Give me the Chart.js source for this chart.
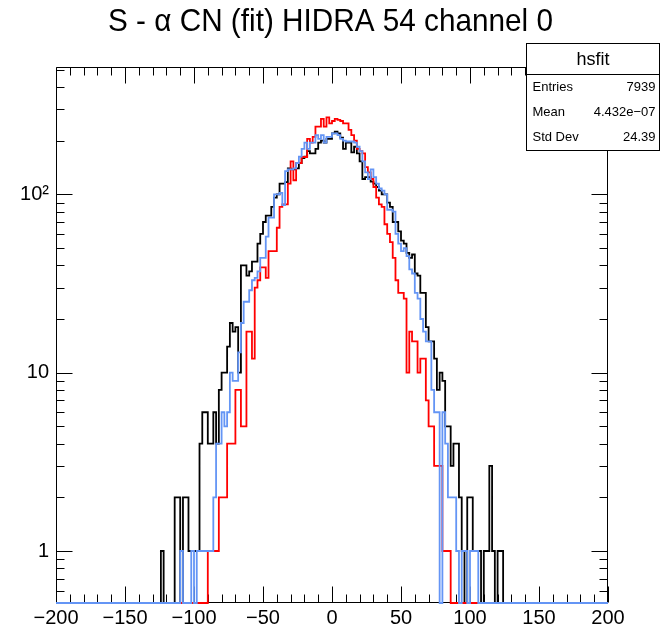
<!DOCTYPE html>
<html><head><meta charset="utf-8">
<script src="https://cdn.jsdelivr.net/npm/chart.js@4.4.1/dist/chart.umd.min.js"></script>
<style>html,body{margin:0;padding:0;background:#fff;} #wrap{width:661px;height:629px;position:relative;}</style>
</head><body><div id="wrap"><canvas id="c" width="661" height="629" style="width:661px;height:629px"></canvas></div>
<script>
const titleText = "S - \u03B1 CN (fit) HIDRA 54 channel 0";
// histogram bins: left edges start at binLow, width binWidth (all other bins are empty)
const binLow = -130, binWidth = 2;
const blackCounts = [
  0,0,0,1,0,0,0,0,2,2,
  0,2,2,1,1,1,1,4,6,6,
  4,4,6,4,8,10,10,14,19,17,
  18,10,40,40,35,37,42,42,53,60,
  70,76,76,85,96,100,115,115,117,140,
  138,138,140,150,160,163,175,170,170,180,
  195,200,195,205,205,220,225,220,208,180,
  195,195,172,185,170,153,122,125,125,118,
  115,110,105,100,100,90,85,70,70,62,
  55,53,47,44,46,36,35,28,28,18,
  15,15,12,8,10,9,5,5,3,4,
  4,2,1,0,2,2,1,1,1,0,
  1,1,3,1,0,1,1,0,0,0
];
const redCounts = [
  0,0,0,0,0,0,0,0,0,0,
  0,0,0,0,0,0,0,0,0,0,
  1,1,1,1,2,2,2,4,4,4,
  8,8,5,5,17,17,12,30,33,39,
  39,34,48,48,48,65,85,88,88,115,
  153,120,150,150,162,162,205,195,210,240,
  240,265,240,270,250,258,265,262,258,250,
  250,230,215,200,180,175,170,142,133,122,
  110,96,88,85,68,60,54,44,33,28,
  28,26,10,17,15,15,10,12,12,7,
  5,5,3,3,3,1,1,1,0,0,
  0,0,0,0,0,0,0,0,0,0,
  0,0,0,0,0,0,0,0,0,0
];
const blueCounts = [
  0,0,0,0,0,0,0,0,0,0,
  1,0,0,0,1,0,1,1,1,1,
  1,1,2,4,4,6,5,6,10,9,
  9,13,19,25,25,29,33,34,37,44,
  44,58,74,74,100,100,102,87,135,138,
  138,140,150,163,180,195,180,195,195,215,
  205,215,195,210,210,220,220,215,205,200,
  198,198,198,195,185,175,153,133,122,138,
  125,115,108,105,100,82,82,80,60,53,
  48,50,45,38,36,28,26,20,17,15,
  15,8,6,6,0,6,4,2,2,2,
  1,0,1,1,0,1,1,1,0,0,
  0,0,0,0,0,0,0,0,0,0
];
const xTicks = [-200,-150,-100,-50,0,50,100,150,200];
const xTickLabels = ["\u2212200","\u2212150","\u2212100","\u221250","0","50","100","150","200"];
const xMinorStep = 10;
const yTicks = [1,10,100];
const yTickLabels = ["1","10","10\u00B2"];
const yMinorTicks = [0.6,0.7,0.8,0.9,2,3,4,5,6,7,8,9,20,30,40,50,60,70,80,90,200,300,400,500];
const statsName = "hsfit";
const statsLabels = ["Entries","Mean","Std Dev"];
const statsValues = ["7939","4.432e\u221207","24.39"];
const xMin = -200, xMax = 200, yMin = 0.511, yMax = 518;

const FONT = "'Liberation Sans', Arial, Helvetica, sans-serif";

function stepPoints(counts) {
  const pts = [{x: xMin, y: yMin}];
  counts.forEach((c, i) => pts.push({x: binLow + i * binWidth, y: c > 0 ? c : yMin}));
  pts.push({x: binLow + counts.length * binWidth, y: yMin});
  pts.push({x: xMax, y: yMin});
  return pts;
}

const frameTicks = {
  id: 'frameTicks',
  beforeDatasetsDraw(chart) {
    const {ctx, chartArea: a, scales: {x, y}} = chart;
    ctx.save();
    ctx.strokeStyle = '#000';
    ctx.lineWidth = 1;
    ctx.beginPath();
    const L = Math.round(a.left) + 0.5, R = Math.round(a.right) - 0.5;
    const T = Math.round(a.top) + 0.5, B = Math.round(a.bottom) - 0.5;
    ctx.rect(L, T, R - L, B - T);
    for (let v = xMin; v <= xMax; v += xMinorStep) {
      const px = Math.round(x.getPixelForValue(v)) + 0.5;
      const len = xTicks.includes(v) ? 16 : 8;
      ctx.moveTo(px, B); ctx.lineTo(px, B - len);
      ctx.moveTo(px, T); ctx.lineTo(px, T + len);
    }
    const yt = (v, len) => {
      const py = Math.round(y.getPixelForValue(v)) + 0.5;
      ctx.moveTo(L, py); ctx.lineTo(L + len, py);
      ctx.moveTo(R, py); ctx.lineTo(R - len, py);
    };
    yTicks.forEach(v => yt(v, 16));
    yMinorTicks.forEach(v => yt(v, 8));
    ctx.stroke();
    ctx.restore();
  },
  afterDraw(chart) {
    const {ctx} = chart;
    ctx.save();
    // title (slightly condensed like the ROOT Helvetica rendering)
    ctx.fillStyle = '#000';
    ctx.font = '32px ' + FONT;
    ctx.textBaseline = 'middle';
    ctx.textAlign = 'center';
    const tw = ctx.measureText(titleText).width;
    const sx = Math.min(1, 445 / tw);
    ctx.save();
    ctx.translate(330.5, 22);
    ctx.scale(sx, 1);
    ctx.fillText(titleText, 0, 0);
    ctx.restore();
    // stats box
    const bx = 526.5, by = 43.5, bw = 133, bh = 107, hh = 31;
    ctx.fillStyle = '#fff';
    ctx.fillRect(bx, by, bw, bh);
    ctx.strokeStyle = '#000';
    ctx.lineWidth = 1;
    ctx.strokeRect(bx, by, bw, bh);
    ctx.beginPath(); ctx.moveTo(bx, by + hh); ctx.lineTo(bx + bw, by + hh); ctx.stroke();
    ctx.fillStyle = '#000';
    ctx.font = '18px ' + FONT;
    ctx.textAlign = 'center';
    ctx.fillText(statsName, bx + bw / 2, by + hh / 2 + 1);
    ctx.font = '13px ' + FONT;
    const rowH = (bh - hh) / statsLabels.length;
    statsLabels.forEach((lab, i) => {
      const ty = by + hh + rowH * (i + 0.5);
      ctx.textAlign = 'left';
      ctx.fillText(lab, bx + 6, ty);
      ctx.textAlign = 'right';
      ctx.fillText(statsValues[i], bx + bw - 4, ty);
    });
    ctx.restore();
  }
};

const ds = (label, counts, color) => ({
  label, data: stepPoints(counts), borderColor: color, borderWidth: 1.8,
  stepped: 'before', pointRadius: 0, fill: false, tension: 0, clip: 3
});

new Chart(document.getElementById('c'), {
  type: 'line',
  data: {
    datasets: [
      ds('blue', blueCounts, '#6495f5'),
      ds('red', redCounts, '#ff0000'),
      ds('hsfit', blackCounts, '#000000')
    ]
  },
  options: {
    responsive: false,
    animation: false,
    devicePixelRatio: 1,
    layout: {padding: {left: 0, right: 53, top: 67, bottom: 0}},
    plugins: {
      legend: {display: false},
      tooltip: {enabled: false},
      title: {display: false}
    },
    scales: {
      x: {
        type: 'linear', min: xMin, max: xMax,
        grid: {display: false, drawTicks: false},
        border: {display: false},
        afterBuildTicks: s => { s.ticks = xTicks.map(v => ({value: v})); },
        afterFit: s => { s.height = 26; },
        ticks: {
          autoSkip: false, maxRotation: 0, padding: 3, color: '#000',
          font: {family: FONT, size: 20},
          callback: (v) => xTickLabels[xTicks.indexOf(v)]
        }
      },
      y: {
        type: 'logarithmic', min: yMin, max: yMax,
        grid: {display: false, drawTicks: false},
        border: {display: false},
        afterBuildTicks: s => { s.ticks = yTicks.map(v => ({value: v})); },
        afterFit: s => { s.width = 56; },
        ticks: {
          autoSkip: false, padding: 7, color: '#000',
          font: {family: FONT, size: 20},
          callback: (v) => yTickLabels[yTicks.indexOf(v)]
        }
      }
    }
  },
  plugins: [frameTicks]
});
</script>
</body></html>
